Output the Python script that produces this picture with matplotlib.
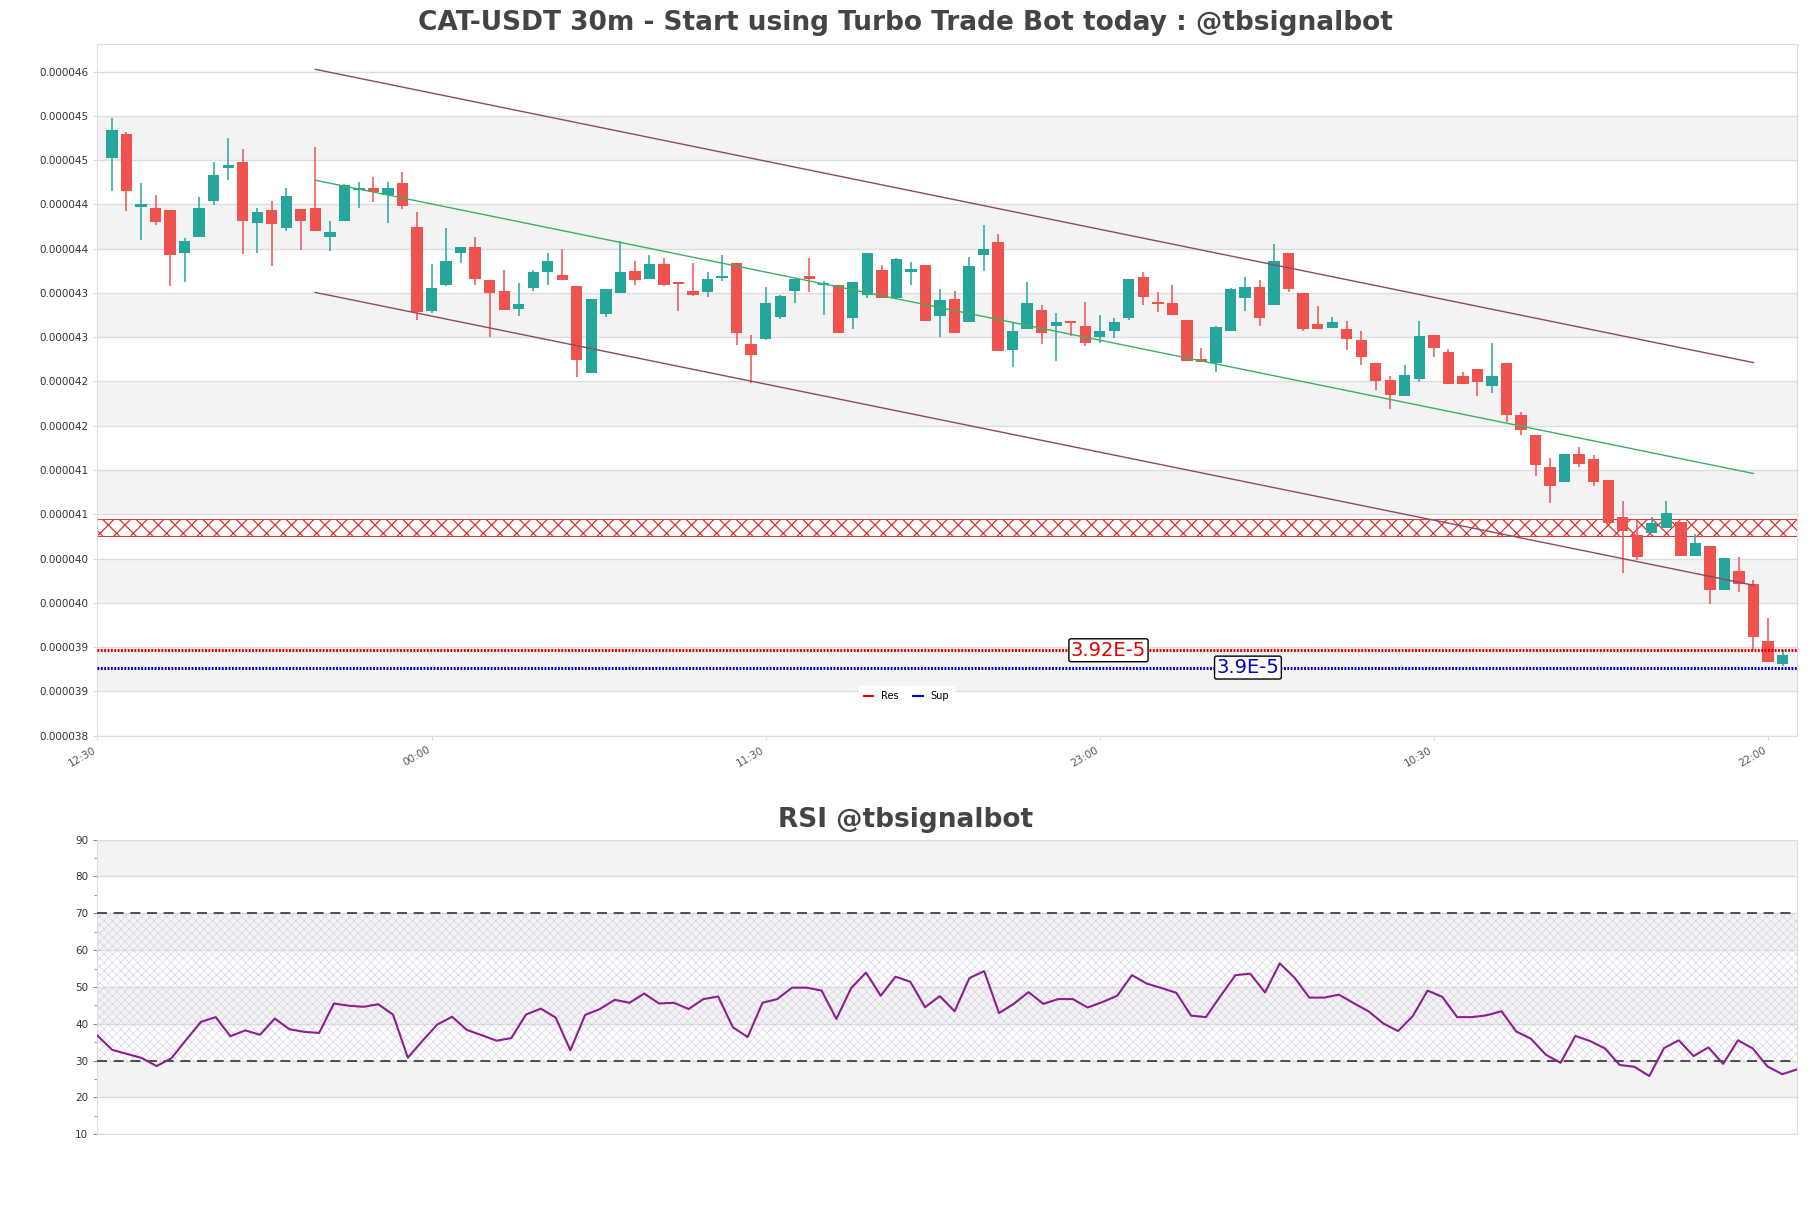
import numpy as np
import matplotlib.pyplot as plt
from matplotlib.lines import Line2D
from matplotlib.ticker import FixedLocator, MultipleLocator

# candles, price in 1e-5 USDT
opens = [4.488, 4.516, 4.432, 4.431, 4.428, 4.379, 4.397, 4.438, 4.477, 4.483,
         4.413, 4.428, 4.407, 4.429, 4.430, 4.397, 4.415, 4.451, 4.453, 4.446,
         4.459, 4.409, 4.311, 4.341, 4.379, 4.385, 4.347, 4.335, 4.314, 4.338,
         4.357, 4.353, 4.340, 4.240, 4.308, 4.332, 4.358, 4.348, 4.366, 4.345,
         4.335, 4.334, 4.350, 4.367, 4.274, 4.279, 4.305, 4.335, 4.351, 4.341,
         4.341, 4.303, 4.330, 4.359, 4.326, 4.356, 4.365, 4.306, 4.325, 4.299,
         4.376, 4.391, 4.266, 4.291, 4.313, 4.294, 4.299, 4.294, 4.281, 4.288,
         4.303, 4.351, 4.3205, 4.321, 4.301, 4.256, 4.251, 4.289, 4.327, 4.339,
         4.318, 4.378, 4.332, 4.296, 4.292, 4.291, 4.278, 4.251, 4.232, 4.214,
         4.233, 4.284, 4.264, 4.237, 4.245, 4.225, 4.251, 4.191, 4.168, 4.131,
         4.114, 4.147, 4.141, 4.116, 4.074, 4.053, 4.055, 4.061, 4.068, 4.029,
         4.040, 3.990, 4.011, 3.996, 3.931, 3.904]
highs = [4.534, 4.518, 4.459, 4.445, 4.428, 4.396, 4.443, 4.484, 4.511, 4.498,
         4.430, 4.439, 4.454, 4.429, 4.501, 4.416, 4.458, 4.460, 4.466, 4.461,
         4.472, 4.426, 4.366, 4.407, 4.386, 4.397, 4.347, 4.359, 4.344, 4.359,
         4.378, 4.383, 4.340, 4.325, 4.337, 4.392, 4.369, 4.376, 4.373, 4.345,
         4.367, 4.357, 4.376, 4.367, 4.284, 4.339, 4.330, 4.349, 4.373, 4.346,
         4.342, 4.345, 4.378, 4.365, 4.373, 4.368, 4.365, 4.337, 4.335, 4.374,
         4.411, 4.401, 4.298, 4.345, 4.318, 4.309, 4.299, 4.322, 4.307, 4.303,
         4.349, 4.356, 4.334, 4.342, 4.301, 4.269, 4.294, 4.338, 4.351, 4.347,
         4.389, 4.378, 4.332, 4.317, 4.305, 4.300, 4.289, 4.251, 4.236, 4.249,
         4.300, 4.284, 4.268, 4.241, 4.245, 4.275, 4.251, 4.195, 4.168, 4.142,
         4.147, 4.155, 4.145, 4.116, 4.092, 4.072, 4.074, 4.092, 4.068, 4.054,
         4.040, 4.027, 4.028, 4.001, 3.957, 3.920]
lows = [4.450, 4.427, 4.394, 4.411, 4.340, 4.345, 4.397, 4.434, 4.463, 4.377,
        4.379, 4.364, 4.404, 4.382, 4.404, 4.381, 4.415, 4.430, 4.437, 4.413,
        4.429, 4.301, 4.309, 4.340, 4.367, 4.342, 4.281, 4.313, 4.306, 4.335,
        4.341, 4.347, 4.235, 4.240, 4.305, 4.332, 4.342, 4.348, 4.340, 4.311,
        4.329, 4.328, 4.346, 4.272, 4.229, 4.278, 4.302, 4.321, 4.334, 4.307,
        4.286, 4.291, 4.327, 4.326, 4.326, 4.342, 4.300, 4.281, 4.286, 4.299,
        4.358, 4.265, 4.247, 4.291, 4.274, 4.254, 4.283, 4.271, 4.275, 4.280,
        4.301, 4.319, 4.310, 4.307, 4.254, 4.253, 4.241, 4.289, 4.311, 4.294,
        4.318, 4.334, 4.289, 4.291, 4.292, 4.267, 4.249, 4.220, 4.199, 4.213,
        4.230, 4.259, 4.227, 4.227, 4.214, 4.217, 4.184, 4.168, 4.121, 4.090,
        4.114, 4.131, 4.109, 4.067, 4.009, 4.024, 4.055, 4.061, 4.029, 4.029,
        3.973, 3.990, 3.987, 3.920, 3.906, 3.902]
closes = [4.520, 4.450, 4.435, 4.414, 4.376, 4.392, 4.431, 4.468, 4.480, 4.415,
          4.426, 4.412, 4.444, 4.415, 4.404, 4.403, 4.457, 4.453, 4.449, 4.454,
          4.433, 4.310, 4.338, 4.369, 4.386, 4.348, 4.332, 4.313, 4.320, 4.357,
          4.369, 4.347, 4.255, 4.325, 4.337, 4.356, 4.347, 4.366, 4.342, 4.343,
          4.330, 4.349, 4.352, 4.286, 4.261, 4.321, 4.329, 4.349, 4.349, 4.344,
          4.286, 4.345, 4.378, 4.326, 4.371, 4.360, 4.300, 4.324, 4.286, 4.364,
          4.383, 4.265, 4.289, 4.321, 4.286, 4.299, 4.298, 4.275, 4.288, 4.299,
          4.349, 4.328, 4.3195, 4.307, 4.254, 4.253, 4.293, 4.337, 4.339, 4.303,
          4.369, 4.337, 4.291, 4.291, 4.299, 4.279, 4.258, 4.231, 4.215, 4.238,
          4.283, 4.269, 4.227, 4.227, 4.230, 4.236, 4.192, 4.174, 4.134, 4.109,
          4.147, 4.135, 4.114, 4.067, 4.058, 4.028, 4.067, 4.078, 4.029, 4.044,
          3.990, 4.027, 3.997, 3.935, 3.906, 3.914]

rsi = [36.8, 32.9, 31.8, 30.7, 28.5, 30.6, 35.6, 40.5, 41.8, 36.6,
       38.2, 37.0, 41.4, 38.5, 37.8, 37.5, 45.5, 44.9, 44.6, 45.3,
       42.5, 30.8, 35.4, 39.8, 41.9, 38.3, 36.9, 35.4, 36.1, 42.5,
       44.1, 41.7, 32.8, 42.4, 44.0, 46.5, 45.7, 48.2, 45.5, 45.7,
       44.0, 46.7, 47.4, 39.0, 36.4, 45.7, 46.7, 49.8, 49.8, 49.0,
       41.3, 49.7, 53.9, 47.6, 52.8, 51.4, 44.5, 47.5, 43.4, 52.4,
       54.3, 42.9, 45.4, 48.6, 45.4, 46.7, 46.7, 44.4, 45.9, 47.6,
       53.2, 50.9, 49.7, 48.4, 42.2, 41.8, 47.6, 53.2, 53.6, 48.5,
       56.4, 52.5, 47.1, 47.1, 47.9, 45.6, 43.4, 40.1, 38.0, 42.1,
       49.0, 47.3, 41.8, 41.8, 42.3, 43.4, 37.9, 35.9, 31.6, 29.4,
       36.7, 35.3, 33.3, 28.8, 28.3, 25.8, 33.4, 35.5, 31.2, 33.6,
       29.1, 35.5, 33.3, 28.4, 26.3, 27.6]

res_level = 3.92
sup_level = 3.90
res_zone = [4.052, 4.072]
channel_x = [14, 113]
channel_upper = [4.5905, 4.252]
channel_mid = [4.4625, 4.124]
channel_lower = [4.333, 3.995]
xtick_pos = [-1, 22, 45, 68, 91, 114]
xtick_labels = ['12:30', '00:00', '11:30', '23:00', '10:30', '22:00']
y_first_tick = 3.8214
y_tick_step = 0.0511

UP = '#26a69a'
DOWN = '#ef5350'
BAND = '#f3f3f3'
GRID = '#dddddd'
TXT = '#444444'

scale = 1e-5
o = np.array(opens) * scale
h = np.array(highs) * scale
l = np.array(lows) * scale
c = np.array(closes) * scale
x = np.arange(len(o))

fig = plt.figure(figsize=(18.11, 12.08), dpi=100)
ax = fig.add_axes([0.0538, 0.391, 0.9385, 0.5727])
ax2 = fig.add_axes([0.0538, 0.0611, 0.9385, 0.2438])

# main price chart
yticks = (y_first_tick + y_tick_step * np.arange(16)) * scale
ax.set_ylim(yticks[0], (y_first_tick + 0.7985) * scale)
ax.set_xlim(-1, 116)
for k in range(1, 15, 2):
    ax.axhspan(yticks[k], yticks[k + 1], color=BAND, lw=0, zorder=0)
ax.yaxis.set_major_locator(FixedLocator(yticks))
ax.set_yticklabels(['%.6f' % v for v in yticks])
ax.grid(axis='y', color=GRID, lw=1, zorder=1)
ax.set_axisbelow(True)

colors = np.where(c >= o, UP, DOWN)
ax.vlines(x, l, h, colors=colors, lw=1.1, zorder=3)
body_low = np.minimum(o, c)
body_h = np.maximum(np.abs(c - o), 0.0025 * scale)
ax.bar(x, body_h, width=0.78, bottom=body_low, color=colors, lw=0, zorder=4)

ax.plot(channel_x, np.array(channel_upper) * scale, color='#8b4a62', lw=1, zorder=5)
ax.plot(channel_x, np.array(channel_lower) * scale, color='#8b4a62', lw=1, zorder=5)
ax.plot(channel_x, np.array(channel_mid) * scale, color='#3cb061', lw=1, zorder=5)

# resistance zone
plt.rcParams['hatch.linewidth'] = 0.9
ax.axhspan(res_zone[0] * scale, res_zone[1] * scale, facecolor='none',
           edgecolor='#e03030', hatch='xx', lw=0.7, zorder=2)

ax.axhline(res_level * scale, color='#e00000', lw=2.2, ls=(0, (0.6, 0.5)), zorder=6)
ax.axhline(sup_level * scale, color='#0000cc', lw=2.2, ls=(0, (0.6, 0.5)), zorder=6)
ax.text(68.6, res_level * scale, '3.92E-5', color='#e00000', fontsize=14,
        ha='center', va='center', zorder=7,
        bbox=dict(boxstyle='round,pad=0.1', fc='white', ec='black', lw=1))
ax.text(78.2, sup_level * scale, '3.9E-5', color='#0000cc', fontsize=14,
        ha='center', va='center', zorder=7,
        bbox=dict(boxstyle='round,pad=0.1', fc='white', ec='black', lw=1))

handles = [Line2D([], [], color='#e00000', lw=1.5), Line2D([], [], color='#0000cc', lw=1.5)]
leg = ax.legend(handles, ['Res', 'Sup'], loc='center', bbox_to_anchor=(0.476, 0.057),
                ncol=2, fontsize=7, frameon=True, handlelength=1.0, columnspacing=1.5,
                borderpad=0.5)
leg.get_frame().set_facecolor('white')
leg.get_frame().set_edgecolor('white')
leg.get_frame().set_alpha(1)

ax.set_xticks(xtick_pos)
ax.set_xticklabels(xtick_labels, rotation=30, ha='right', fontsize=7.5, color='#555555')
ax.tick_params(axis='y', labelsize=7.5, labelcolor='#333333', color=GRID, length=3)
ax.tick_params(axis='x', color=GRID, length=3)
for sp in ax.spines.values():
    sp.set_color(GRID)

fig.text(0.5, 1 - 23 / 1208, 'CAT-USDT 30m - Start using Turbo Trade Bot today : @tbsignalbot',
         ha='center', va='center', fontsize=19, fontweight='bold', color=TXT)

# RSI
ax2.set_xlim(0, len(rsi) - 1)
ax2.set_ylim(10, 90)
for lo in [20, 40, 60, 80]:
    ax2.axhspan(lo, lo + 10, color=BAND, lw=0, zorder=0)
plt.rcParams['hatch.linewidth'] = 0.4
ax2.axhspan(30, 70, facecolor='none', edgecolor='#d8c8e2', hatch='xxxx', lw=0, zorder=1)
ax2.yaxis.set_major_locator(MultipleLocator(10))
ax2.yaxis.set_minor_locator(MultipleLocator(5))
ax2.grid(axis='y', which='major', color=GRID, lw=1)
ax2.set_axisbelow(True)
ax2.axhline(70, color='#333333', lw=1.2, ls=(0, (6, 4)), zorder=3)
ax2.axhline(30, color='#333333', lw=1.2, ls=(0, (6, 4)), zorder=3)
ax2.plot(np.arange(len(rsi)), rsi, color='#8b1f8f', lw=1.5, zorder=4)
ax2.set_xticks([])
ax2.tick_params(axis='y', which='both', labelsize=7.5, labelcolor='#333333', color='#888888', length=3)
ax2.tick_params(axis='y', which='minor', length=2)
for sp in ax2.spines.values():
    sp.set_color(GRID)
fig.text(0.5, 1 - 820 / 1208, 'RSI @tbsignalbot', ha='center', va='center',
         fontsize=19, fontweight='bold', color=TXT)

fig.savefig('out.png', dpi=100)
